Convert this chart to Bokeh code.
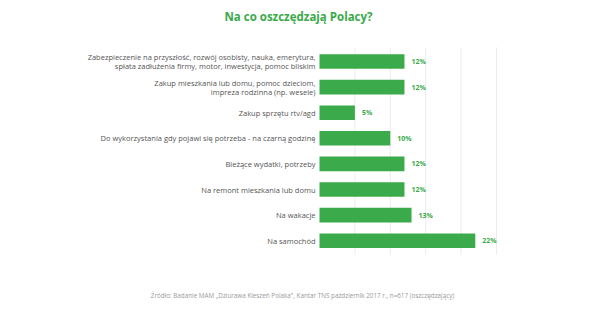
from bokeh.plotting import figure
from bokeh.models import Range1d, Label, ColumnDataSource
from bokeh.core.properties import value
from bokeh.embed import file_html
from bokeh.resources import INLINE

title = "Na co oszczędzają Polacy?"
source_note = "Źródło: Badanie MAM „Dziurawa Kieszeń Polaka\", Kantar TNS październik 2017 r., n=617 (oszczędzający)"
categories = [
    "Zabezpieczenie na przyszłość, rozwój osobisty, nauka, emerytura,\nspłata zadłużenia firmy, motor, inwestycja, pomoc bliskim",
    "Zakup mieszkania lub domu, pomoc dzieciom,\nimpreza rodzinna (np. wesele)",
    "Zakup sprzętu rtv/agd",
    "Do wykorzystania gdy pojawi się potrzeba - na czarną godzinę",
    "Bieżące wydatki, potrzeby",
    "Na remont mieszkania lub domu",
    "Na wakacje",
    "Na samochód",
]
values = [12, 12, 5, 10, 12, 12, 13, 22]
value_labels = [f"{v}%" for v in values]
grid_ticks = [5, 10, 15, 20, 25]

GREEN = "#3aaa4a"
FONT = "Open Sans"

W, H = 605, 328
# layout (pixels): value 0 at x=319, 25% at x=496; first row centre y=61, row pitch 25.6
X0, X25 = 319, 496
PX_PER_UNIT = (X25 - X0) / 25.0
ROW0, PITCH = 61, 25.6
n = len(categories)
rows = list(range(n))

src = ColumnDataSource(dict(row=rows, cat=categories, val=values, lab=value_labels,
                            zero=[0] * n))
grid_src = ColumnDataSource(dict(x=grid_ticks, y0=[-0.55] * len(grid_ticks),
                                 y1=[n - 1 + 0.55] * len(grid_ticks)))

p = figure(width=W, height=H, output_backend="svg", toolbar_location=None,
           x_axis_location=None, y_axis_location=None,
           x_range=Range1d(-X0 / PX_PER_UNIT, 25 + (W - X25) / PX_PER_UNIT),
           y_range=Range1d((n - 1) + (H - (ROW0 + (n - 1) * PITCH)) / PITCH, -ROW0 / PITCH),
           min_border=0)
p.outline_line_color = None
p.background_fill_color = "white"
p.border_fill_color = "white"
p.xgrid.visible = False
p.ygrid.visible = False

p.segment(x0="x", x1="x", y0="y0", y1="y1", source=grid_src, line_color="#ececec", line_width=1)

p.hbar(y="row", right="val", left=0, height=0.57, source=src, color=GREEN, line_color=None)

p.text(x="val", y="row", text="lab", source=src, x_offset=7,
       text_font=value(FONT), text_font_size="7px", text_font_style="bold",
       text_color=GREEN, text_align="left", text_baseline="middle")

p.text(x="zero", y="row", text="cat", source=src, x_offset=-4,
       text_font=value(FONT), text_font_size="7.5px",
       text_color="#555555", text_align="right", text_baseline="middle", text_line_height=0.9)

p.add_layout(Label(x=298, y=H - 16, x_units="screen", y_units="screen", text=title,
                   text_font=FONT, text_font_size="11.5px", text_font_style="bold",
                   text_color=GREEN, text_align="center", text_baseline="middle"))
p.add_layout(Label(x=302, y=H - 295, x_units="screen", y_units="screen", text=source_note,
                   text_font=FONT, text_font_size="6.3px",
                   text_color="#9a9a9a", text_align="center", text_baseline="middle"))

open("out.html", "w").write(file_html(p, INLINE))
